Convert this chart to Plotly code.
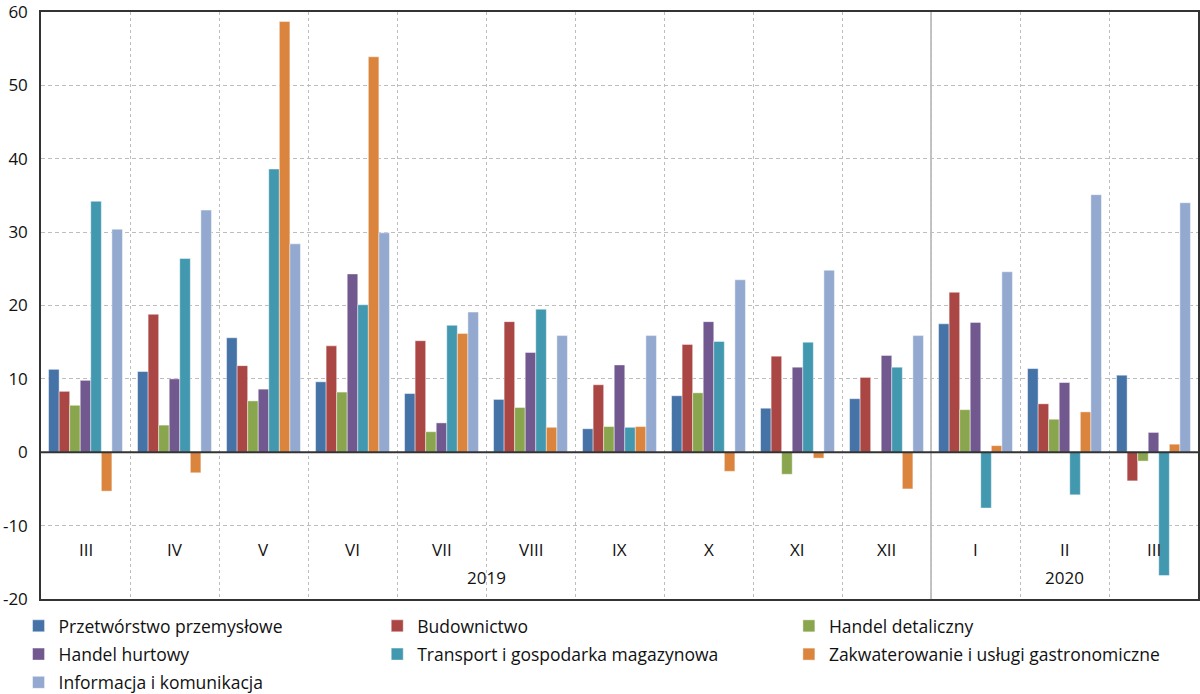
import plotly.graph_objects as go

months = ["III", "IV", "V", "VI", "VII", "VIII", "IX", "X", "XI", "XII", "I", "II", "III"]
years = ["2019"] * 10 + ["2020"] * 3
year_labels = ["2019", "2020"]

series_names = [
    "Przetwórstwo przemysłowe",
    "Budownictwo",
    "Handel detaliczny",
    "Handel hurtowy",
    "Transport i gospodarka magazynowa",
    "Zakwaterowanie i usługi gastronomiczne",
    "Informacja i komunikacja",
]

przetworstwo = [11.3, 11.0, 15.6, 9.6, 8.0, 7.2, 3.2, 7.7, 6.0, 7.3, 17.5, 11.4, 10.5]
budownictwo = [8.3, 18.8, 11.8, 14.5, 15.2, 17.8, 9.2, 14.7, 13.1, 10.2, 21.8, 6.6, -3.9]
handel_detaliczny = [6.4, 3.7, 7.0, 8.2, 2.8, 6.1, 3.5, 8.1, -3.0, None, 5.8, 4.5, -1.2]
handel_hurtowy = [9.8, 10.0, 8.6, 24.3, 4.0, 13.6, 11.9, 17.8, 11.6, 13.2, 17.7, 9.5, 2.7]
transport = [34.2, 26.4, 38.6, 20.1, 17.3, 19.5, 3.4, 15.1, 15.0, 11.6, -7.6, -5.8, -16.8]
zakwaterowanie = [-5.3, -2.8, 58.7, 53.9, 16.2, 3.4, 3.5, -2.6, -0.8, -5.0, 0.9, 5.5, 1.1]
informacja = [30.4, 33.0, 28.4, 29.9, 19.1, 15.9, 15.9, 23.5, 24.8, 15.9, 24.6, 35.1, 34.0]

series_values = [przetworstwo, budownictwo, handel_detaliczny, handel_hurtowy,
                 transport, zakwaterowanie, informacja]
colors = ["#4572A7", "#AA4643", "#89A54E", "#71588F", "#4198AF", "#DB843D", "#93A9CF"]

y_ticks = [-20, -10, 0, 10, 20, 30, 40, 50, 60]

FONT = "Open Sans"
x_idx = list(range(len(months)))

fig = go.Figure()
legend_ids = ["legend", "legend2", "legend3"]
for i, (name, vals, col) in enumerate(zip(series_names, series_values, colors)):
    fig.add_trace(go.Bar(
        x=x_idx, y=vals, name=name,
        marker=dict(color=col, line=dict(color="rgba(255,255,255,0.55)", width=0.8)),
        legend=legend_ids[i % 3],
        legendgroup=name,
    ))

# month labels and year labels inside plot area
for i, m in enumerate(months):
    fig.add_annotation(x=i, y=-13.2, xref="x", yref="y", text=m, showarrow=False,
                       font=dict(family=FONT, size=17, color="#111"))
for yl in year_labels:
    idxs = [i for i, y in enumerate(years) if y == yl]
    center = (idxs[0] + idxs[-1]) / 2
    fig.add_annotation(x=center, y=-17.1, xref="x", yref="y", text=yl, showarrow=False,
                       font=dict(family=FONT, size=17, color="#111"))

# year separator
sep = years.index("2020") - 0.5
fig.add_shape(type="line", x0=sep, x1=sep, y0=0, y1=1, xref="x", yref="paper",
              line=dict(color="#888", width=1), layer="below")

# zero line
fig.add_shape(type="line", x0=0, x1=1, y0=0, y1=0, xref="paper", yref="y",
              line=dict(color="#333", width=1.8), layer="above")

legend_common = dict(
    orientation="v", bgcolor="rgba(0,0,0,0)", font=dict(family=FONT, size=17.5, color="#111"),
    tracegroupgap=2.5, itemwidth=30, xanchor="left", yanchor="top", traceorder="grouped",
    itemclick=False, itemdoubleclick=False,
)

fig.update_layout(
    width=1200, height=694,
    margin=dict(l=41, r=2, t=12, b=95, autoexpand=False),
    paper_bgcolor="white", plot_bgcolor="white",
    barmode="group", bargap=0.17, bargroupgap=0,
    font=dict(family=FONT, size=17, color="#111"),
    showlegend=True,
    legend=dict(x=-0.0194, y=-0.0153, **legend_common),
    legend2=dict(x=0.2906, y=-0.0153, **legend_common),
    legend3=dict(x=0.6464, y=-0.0153, **legend_common),
    xaxis=dict(
        range=[-0.5, len(months) - 0.5],
        tickvals=[i + 0.5 for i in range(len(months) - 1)],
        ticktext=[""] * (len(months) - 1),
        showgrid=True, gridcolor="#bdbdbd", griddash="3px,3px", gridwidth=1,
        showline=True, linecolor="#333", linewidth=1.5, mirror=True,
        zeroline=False, ticks="",
    ),
    yaxis=dict(
        range=[-20, 60],
        tickvals=y_ticks, ticktext=[str(v) for v in y_ticks],
        showgrid=True, gridcolor="#bdbdbd", griddash="4px,3px", gridwidth=1,
        showline=True, linecolor="#333", linewidth=1.5, mirror=True,
        zeroline=False, ticks="", ticklabeloverflow="allow", ticklabelstandoff=8,
        tickfont=dict(family=FONT, size=17, color="#111"),
    ),
)

fig.write_html("out.html", config={"displayModeBar": False},
               post_script="document.body.style.margin='0px';")
